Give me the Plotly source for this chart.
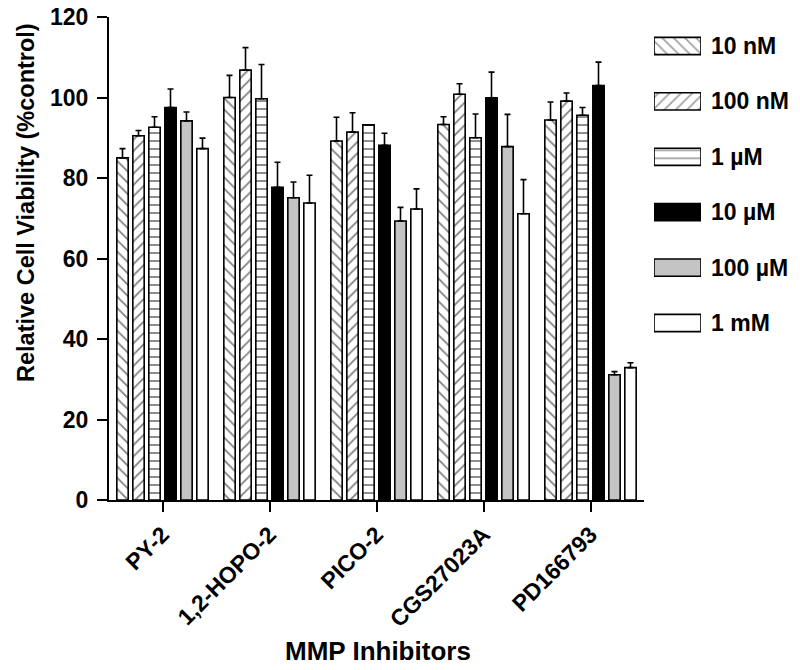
import plotly.graph_objects as go

# ---- data ----
inhibitors = ["PY-2", "1,2-HOPO-2", "PICO-2", "CGS27023A", "PD166793"]
series_names = ["10 nM", "100 nM", "1 µM", "10 µM", "100 µM", "1 mM"]

v_10nM = [85.0, 100.0, 89.2, 93.3, 94.4]
v_100nM = [90.5, 106.8, 91.4, 100.8, 99.1]
v_1uM = [92.6, 99.7, 93.2, 90.0, 95.6]
v_10uM = [97.5, 77.7, 88.1, 99.9, 103.0]
v_100uM = [94.2, 75.1, 69.3, 87.8, 31.1]
v_1mM = [87.3, 73.8, 72.3, 71.1, 32.9]

e_10nM = [2.3, 5.5, 5.9, 1.9, 4.5]
e_100nM = [1.3, 5.6, 4.8, 2.6, 2.0]
e_1uM = [2.6, 8.5, 0.0, 5.9, 1.9]
e_10uM = [4.6, 6.2, 3.0, 6.4, 5.8]
e_100uM = [2.2, 3.9, 3.4, 8.0, 0.8]
e_1mM = [2.6, 6.9, 5.0, 8.5, 1.2]

y_ticks = [0, 20, 40, 60, 80, 100, 120]

values = [v_10nM, v_100nM, v_1uM, v_10uM, v_100uM, v_1mM]
errors = [e_10nM, e_100nM, e_1uM, e_10uM, e_100uM, e_1mM]

# ---- styles ----
fills = ["white", "white", "white", "black", "#c4c4c4", "white"]
shapes = ["\\", "/", "-", "", "", ""]

FONT = dict(family="Liberation Sans, Arial, sans-serif", size=23, color="black", weight="bold")

W, H = 800, 670
ML, MR, MT, MB = 109, 10, 17, 170
PW = W - ML - MR
PH = H - MT - MB
main_right = 644

def px_x(p):
    return (p - ML) / PW

def px_y(p):
    return (H - MB - p) / PH

fig = go.Figure()

for name, vals, errs, fc, sh in zip(series_names, values, errors, fills, shapes):
    fig.add_trace(go.Bar(
        x=inhibitors, y=vals, name=name,
        marker=dict(color=fc,
                    line=dict(color="black", width=1.6),
                    pattern=dict(shape=sh, fgcolor="black", fillmode="overlay",
                                 size=8, solidity=0.22)),
        error_y=dict(type="data", array=errs, arrayminus=[0] * len(errs),
                     symmetric=False, color="black", thickness=1.6, width=3),
        showlegend=False,
    ))

# custom legend drawn with a hidden helper subplot
idx = list(range(len(series_names)))
fig.add_trace(go.Bar(
    x=[1] * len(series_names), y=idx, orientation="h", width=0.31,
    xaxis="x2", yaxis="y2",
    marker=dict(color=fills, line=dict(color="black", width=1.6),
                pattern=dict(shape=shapes, fgcolor="black", fillmode="overlay",
                             size=8, solidity=0.22)),
    showlegend=False, hoverinfo="skip",
))

annotations = []
for i, name in zip(idx, series_names):
    annotations.append(dict(x=1, y=i, xref="x2", yref="y2", text=name,
                            showarrow=False, xanchor="left", yanchor="middle",
                            xshift=8, font=FONT))

annotations.append(dict(x=px_x(26), y=px_y(203), xref="paper", yref="paper",
                        text="Relative Cell Viability (%control)", textangle=-90,
                        showarrow=False, xanchor="center", yanchor="middle",
                        font=dict(FONT, size=23.5)))
annotations.append(dict(x=px_x(377.5), y=px_y(651), xref="paper", yref="paper",
                        text="MMP Inhibitors", showarrow=False,
                        xanchor="center", yanchor="middle", font=dict(FONT, size=26)))

leg_top, leg_step = 46, 55.4
fig.update_layout(
    width=W, height=H, autosize=False,
    margin=dict(l=ML, r=MR, t=MT, b=MB),
    paper_bgcolor="white", plot_bgcolor="white",
    barmode="group", bargap=0.103, bargroupgap=0.29,
    font=FONT,
    xaxis=dict(domain=[0, px_x(main_right)], range=[-0.5, 4.5], type="category",
               showline=True, linecolor="black", linewidth=2,
               ticks="outside", ticklen=10, tickwidth=2, tickcolor="black",
               tickangle=-45, tickfont=FONT, showgrid=False, zeroline=False,
               automargin=False),
    yaxis=dict(range=[0, 120], tickvals=y_ticks, showline=True, linecolor="black",
               linewidth=2, ticks="outside", ticklen=10, tickwidth=2, tickcolor="black",
               tickfont=FONT, showgrid=False, zeroline=False, automargin=False,
               ticklabelstandoff=4),
    xaxis2=dict(domain=[px_x(654), px_x(701)], range=[0, 1], visible=False,
                anchor="y2", fixedrange=True),
    yaxis2=dict(domain=[px_y(leg_top + leg_step * 5.5), px_y(leg_top - leg_step * 0.5)],
                range=[5.5, -0.5], visible=False, anchor="x2", fixedrange=True),
    annotations=annotations,
)

fig.write_html("out.html", config={"displayModeBar": False},
               post_script="document.body.style.margin='0';document.body.style.padding='0';")
